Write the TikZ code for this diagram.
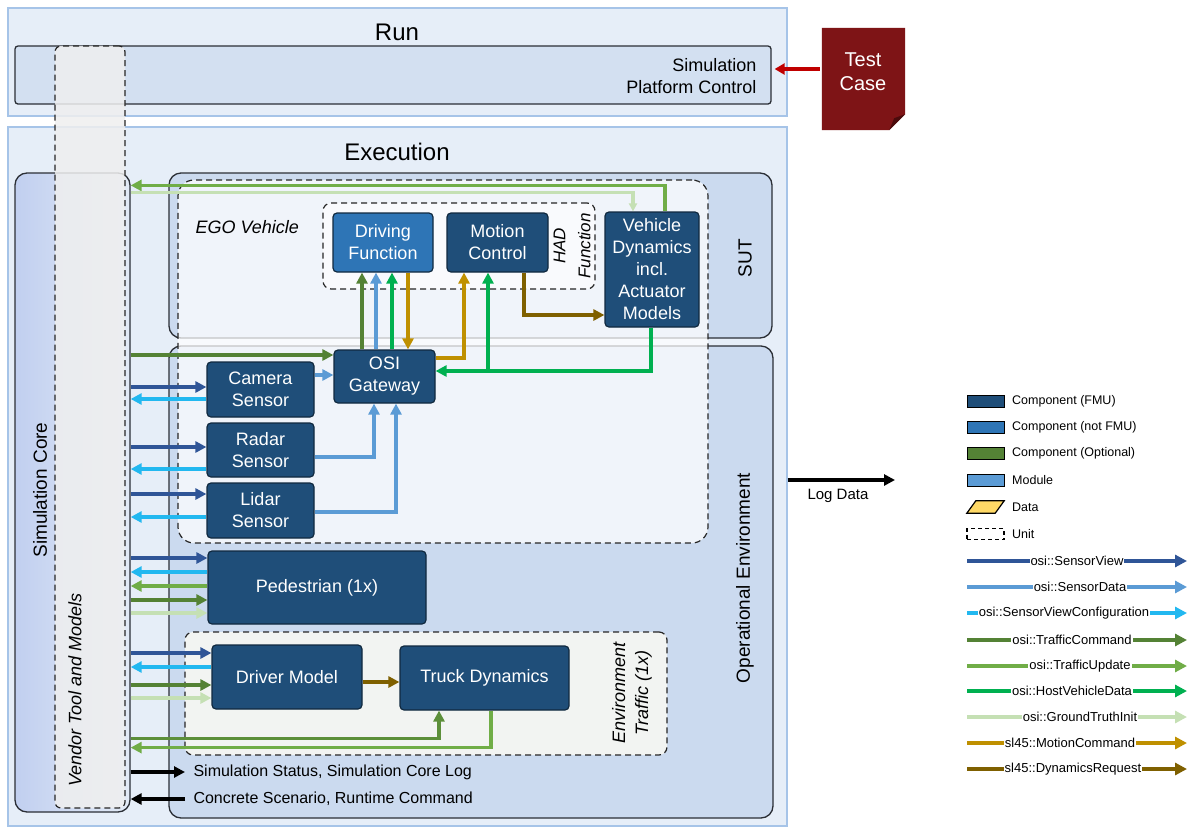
\documentclass[tikz,border=0pt]{standalone}
\usepackage{fontspec}
\setmainfont{Liberation Sans}
\usetikzlibrary{arrows.meta,calc}

% palette
\definecolor{fmu}{HTML}{1F4E79}
\definecolor{fmuborder}{HTML}{10293F}
\definecolor{notfmu}{HTML}{2E75B6}
\definecolor{optional}{HTML}{548235}
\definecolor{module}{HTML}{5B9BD5}
\definecolor{datafill}{HTML}{FFD966}
\definecolor{paneborder}{HTML}{A6C4E8}
\definecolor{panefill}{HTML}{E6EEF8}
\definecolor{layerfill}{HTML}{CBDAEF}
\definecolor{layerborder}{HTML}{2B2F36}
\definecolor{testred}{HTML}{7E1416}
\definecolor{testfold}{HTML}{4A0B0C}
\definecolor{tcarrow}{HTML}{C00000}
\definecolor{vendorfill}{HTML}{EFEFEF}
\definecolor{trafficfill}{HTML}{F8F8F3}
\definecolor{cSensorView}{HTML}{2F5597}
\definecolor{cSensorData}{HTML}{5B9BD5}
\definecolor{cSVConfig}{HTML}{22B8F0}
\definecolor{cTrafficCommand}{HTML}{548235}
\definecolor{cTrafficUpdate}{HTML}{70AD47}
\definecolor{cHostVehicle}{HTML}{00B050}
\definecolor{cGroundTruth}{HTML}{C5E0B4}
\definecolor{cMotion}{HTML}{BF9000}
\definecolor{cDynamics}{HTML}{7F6000}

\newcommand\pxfont[2]{\fontsize{#1}{#2}\selectfont}

\tikzset{
  pane/.style={draw=paneborder, line width=1.2pt, fill=panefill, inner sep=0pt},
  layer/.style={draw=layerborder, line width=1.3pt, fill=layerfill, rounded corners=12pt, inner sep=0pt},
  unitbox/.style={draw=black!85, line width=1.2pt, dash pattern=on 6pt off 4pt, rounded corners=12pt, inner sep=0pt},
  comp/.style={draw=fmuborder, line width=1.2pt, fill=fmu, rounded corners=4pt, text=white,
    align=center, font=\pxfont{18}{22}, inner sep=0pt},
  compnf/.style={comp, fill=notfmu},
  titletext/.style={font=\pxfont{24}{28}},
  sidetext/.style={rotate=90, font=\pxfont{19}{23}},
  flow/.style={line width=3.6pt, -{Triangle[length=11pt,width=11pt]}},
  sv/.style={flow, draw=cSensorView},
  sd/.style={flow, draw=cSensorData},
  svc/.style={flow, draw=cSVConfig},
  tc/.style={flow, draw=cTrafficCommand},
  tu/.style={flow, draw=cTrafficUpdate},
  hvd/.style={flow, draw=cHostVehicle},
  gt/.style={flow, draw=cGroundTruth},
  mcmd/.style={flow, draw=cMotion},
  dyn/.style={flow, draw=cDynamics},
  plain/.style={line width=3.2pt, draw=black, -{Triangle[length=11pt,width=11pt]}},
  legtext/.style={font=\pxfont{12.5}{15}, anchor=west, inner sep=0pt},
  legflow/.style={font=\pxfont{13}{15}, fill=white, inner sep=1pt},
}

\begin{document}
\begin{tikzpicture}[x=1pt,y=-1pt]
\useasboundingbox[fill=white] (0,0) rectangle (1187,828);

% ---------------- Run layer ----------------
\node[pane, minimum width=779pt, minimum height=108pt] (run) at (397.5,62) {};
\node[titletext] (runlabel) at (397,32) {Run};
\node[layer, rounded corners=3pt, fill=layerfill!85!white, minimum width=756pt, minimum height=58pt] (spc) at (393,75) {};
\node[anchor=east, align=right, font=\pxfont{18}{22}] (spclabel) at (760,76) {Simulation\\Platform Control};

% test case document
\node[minimum width=83pt, minimum height=102pt, inner sep=0pt] (tcbox) at (863.5,79) {};
\fill[testred] (tcbox.north west) -- (tcbox.north east) -- ($(tcbox.south east)+(0,-16)$)
  -- ($(tcbox.south east)+(-16,0)$) -- (tcbox.south west) -- cycle;
\fill[testfold] ($(tcbox.south east)+(0,-16)$) -- ($(tcbox.south east)+(-11,-12)$) -- ($(tcbox.south east)+(-16,0)$) -- cycle;
\node[text=white, align=center, font=\pxfont{20}{24}] (tclabel) at (863,72) {Test\\Case};
\draw[line width=3.4pt, draw=tcarrow, -{Triangle[length=10pt,width=11pt]}]
  ($(tcbox.west)+(-2,-10)$) -- ($(spc.east)+(3,-6)$);

% ---------------- Execution layer ----------------
\node[pane, minimum width=779pt, minimum height=699pt] (exec) at (397.5,476.5) {};
\node[titletext] (execlabel) at (397,152) {Execution};

\node[layer, left color=layerfill!95!blue, right color=layerfill!55!white, minimum width=115pt, minimum height=639pt] (simcore) at (72.5,492.5) {};
\node[layer, minimum width=603pt, minimum height=165pt] (sut) at (470.5,255.5) {};
\node[layer, minimum width=604pt, minimum height=472pt] (openv) at (471,582) {};

\node[sidetext] (simcorelabel) at (40,490) {Simulation Core};
\node[sidetext] (sutlabel) at (745,258) {SUT};
\node[sidetext] (openvlabel) at (745,578) {Operational Environment};

% units
\node[unitbox, fill=white, fill opacity=0.72, minimum width=530pt, minimum height=363pt, rounded corners=16pt] (ego) at (443,361.5) {};
\node[anchor=west, font=\itshape\pxfont{18}{22}] (egolabel) at (192,227) {EGO Vehicle};
\node[unitbox, fill=white, fill opacity=0.6, minimum width=272pt, minimum height=86pt, rounded corners=8pt] (had) at (459,246) {};
\node[rotate=90, align=center, font=\itshape\pxfont{17}{25}] (hadlabel) at (572,246) {HAD\\Function};
\node[unitbox, fill=trafficfill, fill opacity=0.88, minimum width=482pt, minimum height=123pt, rounded corners=8pt] (traffic) at (426,693.5) {};
\node[rotate=90, align=center, font=\itshape\pxfont{18}{23}] (trafficlabel) at (632,693) {Environment\\Traffic (1x)};

\node[unitbox, fill=vendorfill, fill opacity=0.85, minimum width=70pt, minimum height=762pt, rounded corners=6pt] (vendor) at (90,427) {};
\node[rotate=90, font=\itshape\pxfont{18}{22}] (vendorlabel) at (75,690) {Vendor Tool and Models};

% ---------------- components ----------------
\node[compnf, minimum width=100pt, minimum height=59pt] (df) at (383,242.5) {Driving\\Function};
\node[comp, minimum width=101pt, minimum height=59pt] (mc) at (497.5,242.5) {Motion\\Control};
\node[comp, minimum width=94pt, minimum height=115pt] (vd) at (652,269.5) {Vehicle\\Dynamics\\incl.\\Actuator\\Models};
\node[comp, minimum width=101pt, minimum height=53pt] (osi) at (384.5,376.5) {OSI\\Gateway};
\node[comp, minimum width=107pt, minimum height=55pt] (cam) at (260.5,389.5) {Camera\\Sensor};
\node[comp, minimum width=107pt, minimum height=54pt] (radar) at (260.5,450) {Radar\\Sensor};
\node[comp, minimum width=107pt, minimum height=55pt] (lidar) at (260.5,510.5) {Lidar\\Sensor};
\node[comp, minimum width=218pt, minimum height=73pt] (ped) at (317,587.5) {Pedestrian (1x)};
\node[comp, minimum width=150pt, minimum height=64pt] (driver) at (287,677) {Driver Model};
\node[comp, minimum width=169pt, minimum height=64pt] (truck) at (484.5,678) {Truck Dynamics};

% ---------------- EGO connectors ----------------
% vehicle dynamics back to the simulation core
\coordinate (vdtu) at ($(vd.north)+(13,0)$);
\coordinate (rowtu) at ($(vd.north)+(13,-26)$);
\draw[tu] (vdtu) |- (simcore.east |- rowtu);
\coordinate (vdgt) at ($(vd.north)+(-19,0)$);
\coordinate (rowgt) at ($(vd.north)+(-19,-19)$);
\draw[gt, -{Triangle[length=8pt,width=8pt]}] (simcore.east |- rowgt) -| (vdgt);

% traffic command into the gateway
\coordinate (ositc) at ($(osi.west)+(0,-21.5)$);
\draw[tc] (simcore.east |- ositc) -- (ositc);

% gateway to driving function and back
\draw[tc] ($(osi.north)+(-22.5,0)$) -- ($(df.south)+(-21,0)$);
\draw[sd] ($(osi.north)+(-8.5,0)$) -- ($(df.south)+(-7,0)$);
\draw[hvd] ($(osi.north)+(7.5,0)$) -- ($(df.south)+(9,0)$);
\draw[mcmd] ($(df.south)+(25,0)$) -- ($(osi.north)+(23.5,0)$);

% gateway to motion control
\draw[mcmd] ($(osi.east)+(0,-18.5)$) -| ($(mc.south)+(-33.5,0)$);
% host vehicle data from vehicle dynamics
\coordinate (hvdrow) at ($(osi.east)+(0,-5.5)$);
\draw[hvd] ($(vd.south)+(-1,0)$) |- (hvdrow);
\coordinate (mchvd) at ($(mc.south)+(-9.5,0)$);
\draw[hvd] (mchvd |- hvdrow) -- (mchvd);
% dynamics request
\draw[dyn] ($(mc.south)+(26.5,0)$) |- ($(vd.west)+(0,45.5)$);

% sensors to gateway
\draw[sd] ($(cam.east)+(0,-14.5)$) -- ($(osi.west)+(0,-1.5)$);
\draw[sd] ($(radar.east)+(0,7)$) -| ($(osi.south)+(-10.5,0)$);
\draw[sd] ($(lidar.east)+(0,1.5)$) -| ($(osi.south)+(11.5,0)$);

% simulation core and sensors
\coordinate (camin) at ($(cam.west)+(0,-2.5)$);
\coordinate (camout) at ($(cam.west)+(0,9.5)$);
\draw[sv] (simcore.east |- camin) -- (camin);
\draw[svc] (camout) -- (simcore.east |- camout);
\coordinate (radin) at ($(radar.west)+(0,-3)$);
\coordinate (radout) at ($(radar.west)+(0,19)$);
\draw[sv] (simcore.east |- radin) -- (radin);
\draw[svc] (radout) -- (simcore.east |- radout);
\coordinate (lidin) at ($(lidar.west)+(0,-16.5)$);
\coordinate (lidout) at ($(lidar.west)+(0,6.5)$);
\draw[sv] (simcore.east |- lidin) -- (lidin);
\draw[svc] (lidout) -- (simcore.east |- lidout);

% pedestrian
\coordinate (pedsv) at ($(ped.west)+(0,-29.5)$);
\coordinate (pedsvc) at ($(ped.west)+(0,-15.5)$);
\coordinate (pedtu) at ($(ped.west)+(0,-1.5)$);
\coordinate (pedtc) at ($(ped.west)+(0,12.5)$);
\coordinate (pedgt) at ($(ped.west)+(0,25.5)$);
\draw[sv] (simcore.east |- pedsv) -- (pedsv);
\draw[svc] (pedsvc) -- (simcore.east |- pedsvc);
\draw[tu] (pedtu) -- (simcore.east |- pedtu);
\draw[tc] (simcore.east |- pedtc) -- (pedtc);
\draw[gt] (simcore.east |- pedgt) -- (pedgt);

% driver model
\coordinate (drsv) at ($(driver.west)+(0,-24)$);
\coordinate (drsvc) at ($(driver.west)+(0,-10)$);
\coordinate (drtc) at ($(driver.west)+(0,8)$);
\coordinate (drgt) at ($(driver.west)+(0,21)$);
\draw[sv] (simcore.east |- drsv) -- (drsv);
\draw[svc] (drsvc) -- (simcore.east |- drsvc);
\draw[tc] (simcore.east |- drtc) -- (drtc);
\draw[gt] (simcore.east |- drgt) -- (drgt);
\draw[dyn] ($(driver.east)+(0,5)$) -- ($(truck.west)+(0,4)$);

% truck dynamics
\coordinate (trin) at ($(truck.south)+(-45.5,0)$);
\coordinate (trinrow) at ($(truck.south)+(-45.5,28)$);
\draw[tc, draw=cTrafficCommand!70!cTrafficUpdate] (simcore.east |- trinrow) -| (trin);
\coordinate (trout) at ($(truck.south)+(6.5,0)$);
\coordinate (troutrow) at ($(truck.south)+(6.5,37)$);
\draw[tu] (trout) |- (simcore.east |- troutrow);

% run control messages
\node[anchor=west, font=\pxfont{16}{19}] (status) at (190,772) {Simulation Status, Simulation Core Log};
\node[anchor=west, font=\pxfont{16}{19}] (scenario) at (190,799) {Concrete Scenario, Runtime Command};
\draw[plain] (simcore.east |- status.west) -- ($(status.west)+(-5,0)$);
\draw[plain] ($(scenario.west)+(-5,0)$) -- (simcore.east |- scenario.west);

% log output
\coordinate (logend) at (895,480);
\draw[plain] (exec.east |- logend) -- (logend);
\node[font=\pxfont{15}{18}] (loglabel) at (838,496) {Log Data};

% ---------------- legend ----------------
\node[draw=black, line width=1pt, fill=fmu, minimum width=37pt, minimum height=12pt, inner sep=0pt] (lgfmu) at (985.5,401) {};
\node[legtext] (lgfmut) at (1012,401) {Component (FMU)};
\node[draw=black, line width=1pt, fill=notfmu, minimum width=37pt, minimum height=12pt, inner sep=0pt] (lgnf) at (985.5,427) {};
\node[legtext] (lgnft) at (1012,427) {Component (not FMU)};
\node[draw=black, line width=1pt, fill=optional, minimum width=37pt, minimum height=12pt, inner sep=0pt] (lgopt) at (985.5,453) {};
\node[legtext] (lgoptt) at (1012,453) {Component (Optional)};
\node[draw=black, line width=1pt, fill=module, minimum width=37pt, minimum height=12pt, inner sep=0pt] (lgmod) at (985.5,480) {};
\node[legtext] (lgmodt) at (1012,480) {Module};
\node[minimum width=37pt, minimum height=12pt, inner sep=0pt] (lgdata) at (985.5,507) {};
\draw[line width=1.2pt, fill=datafill] ($(lgdata.south west)+(0,0)$) -- ($(lgdata.north west)+(9,0)$)
  -- (lgdata.north east) -- ($(lgdata.south east)+(-9,0)$) -- cycle;
\node[legtext] (lgdatat) at (1012,507) {Data};
\node[draw=black, line width=1.2pt, dash pattern=on 4pt off 3pt, minimum width=37pt, minimum height=11pt, inner sep=0pt] (lgunit) at (985.5,534) {};
\node[legtext] (lgunitt) at (1012,534) {Unit};

\foreach \col/\y/\lx/\txt [count=\i] in {
  cSensorView/561/1077/{osi::SensorView},
  cSensorData/587/1080/{osi::SensorData},
  cSVConfig/613/1064/{osi::SensorViewConfiguration},
  cTrafficCommand/640/1072/{osi::TrafficCommand},
  cTrafficUpdate/666/1080/{osi::TrafficUpdate},
  cHostVehicle/691/1072/{osi::HostVehicleData},
  cGroundTruth/717/1080/{osi::GroundTruthInit},
  cMotion/743/1070/{sl45::MotionCommand},
  cDynamics/769/1073/{sl45::DynamicsRequest}} {
  \coordinate (legA\i) at (967,\y);
  \coordinate (legB\i) at (1187,\y);
  \draw[line width=3.4pt, draw=\col, -{Triangle[length=12pt,width=12pt]}] (legA\i) -- (legB\i);
  \node[legflow] (legT\i) at (\lx,\y) {\txt};
}
\end{tikzpicture}
\end{document}
